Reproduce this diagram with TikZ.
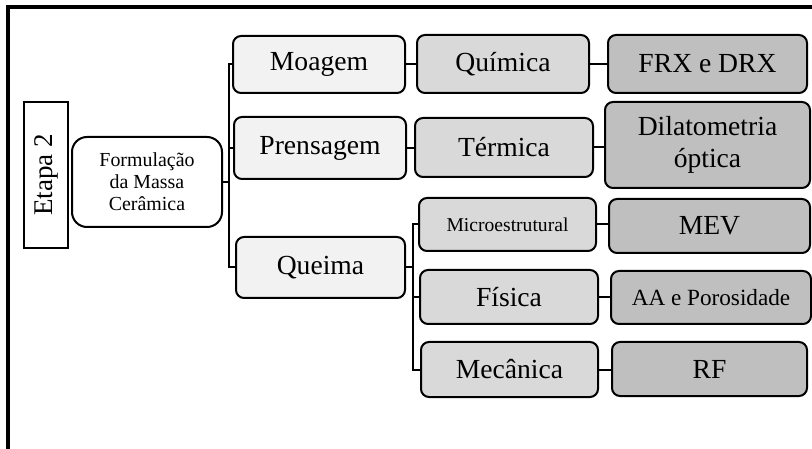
\documentclass[tikz,border=0pt]{standalone}
\usepackage{fontspec}
\setmainfont{Liberation Serif}
\definecolor{lvA}{HTML}{F2F2F2}
\definecolor{lvB}{HTML}{D9D9D9}
\definecolor{lvC}{HTML}{BFBFBF}
\begin{document}
\begin{tikzpicture}[x=1pt,y=-1pt,
  box/.style={draw=black,line width=2pt,rounded corners=8pt,inner sep=0pt,align=center,font=\fontsize{27.6}{32}\selectfont},
  lvone/.style={box,fill=lvA},
  lvtwo/.style={box,fill=lvB},
  lvthree/.style={box,fill=lvC},
  conn/.style={draw=black,line width=2pt}]
\useasboundingbox (0,0) rectangle (812,449);
\draw[line width=4pt] (8,449) -- (8,7) -- (812,7);
\node[draw=black,line width=2pt,fill=white,minimum width=44pt,minimum height=146pt,inner sep=0pt] (etapa) at (46,175) {};
\node[rotate=90,font=\fontsize{27}{32}\selectfont] at (etapa.center) {Etapa 2};
\node[box,fill=white,rounded corners=15pt,minimum width=150pt,minimum height=90pt,font=\fontsize{19.9}{22}\selectfont] (form) at (147,182) {Formulação\\da Massa\\Cerâmica};
\node[lvone,minimum width=172pt,minimum height=57pt] (moagem) at (319,64.5) {Moagem};
\node[lvone,minimum width=172pt,minimum height=62pt] (prensagem) at (320,148) {Prensagem};
\node[lvone,minimum width=169pt,minimum height=61pt] (queima) at (320.5,267.5) {Queima};
\node[lvtwo,minimum width=172pt,minimum height=58pt] (quimica) at (503,64) {Química};
\node[lvtwo,minimum width=178pt,minimum height=59pt] (termica) at (504,147.5) {Térmica};
\node[lvtwo,minimum width=177pt,minimum height=53pt,font=\fontsize{19.6}{22}\selectfont] (micro) at (507.5,224.5) {Microestrutural};
\node[lvtwo,minimum width=178pt,minimum height=54pt] (fisica) at (509,297) {Física};
\node[lvtwo,minimum width=177pt,minimum height=55pt] (mecanica) at (509.5,369.5) {Mecânica};
\node[lvthree,minimum width=199pt,minimum height=58pt] (frx) at (707.5,64) {FRX e DRX};
\node[lvthree,minimum width=205pt,minimum height=86pt] (dilat) at (707.5,145) {Dilatometria\\óptica};
\node[lvthree,minimum width=201pt,minimum height=54pt] (mev) at (709.5,226) {MEV};
\node[lvthree,minimum width=200pt,minimum height=53pt,font=\fontsize{23.2}{28}\selectfont] (aa) at (711,297.5) {AA e Porosidade};
\node[lvthree,minimum width=195pt,minimum height=54pt] (rf) at (709.5,369) {RF};
% trunk from Formulacao
\coordinate (tA) at (229,64.5);
\coordinate (tB) at (229,267.5);
\draw[conn] (form.east) -- (form.east -| tA);
\draw[conn] (moagem.west) -- (tA) -- (tB) -- (queima.west);
\draw[conn] (prensagem.west) -- (prensagem.west -| tA);
% level 2 links
\draw[conn] (moagem.east) -- (quimica.west |- moagem.east);
\draw[conn] (prensagem.east) -- (termica.west |- prensagem.east);
% Queima branch
\coordinate (qA) at (413,224.5);
\coordinate (qB) at (413,369.5);
\draw[conn] (queima.east) -- (queima.east -| qA);
\draw[conn] (micro.west) -- (qA) -- (qB) -- (mecanica.west);
\draw[conn] (fisica.west) -- (fisica.west -| qA);
% level 3 links
\draw[conn] (quimica.east) -- (frx.west |- quimica.east);
\draw[conn] (termica.east) -- (dilat.west |- termica.east);
\draw[conn] (micro.east) -- (mev.west |- micro.east);
\draw[conn] (fisica.east) -- (aa.west |- fisica.east);
\draw[conn] (mecanica.east) -- (rf.west |- mecanica.east);
\end{tikzpicture}
\end{document}
